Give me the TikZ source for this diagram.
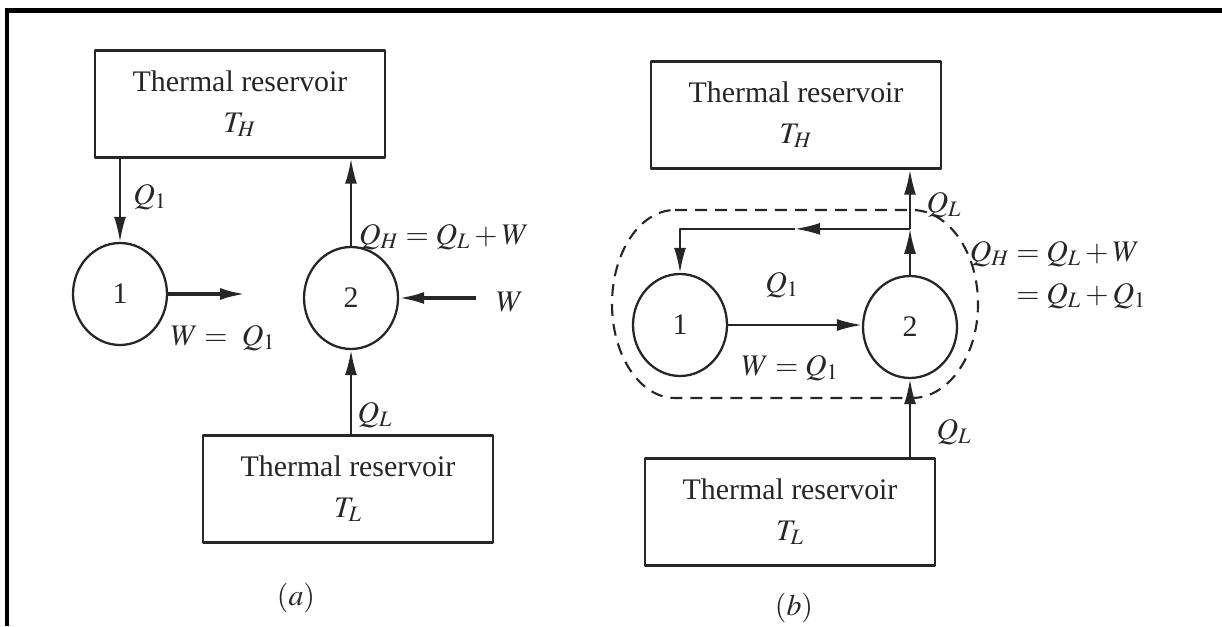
\documentclass[tikz,border=0pt]{standalone}
\usepackage{amsmath}
\usepackage{mathptmx}
\usepackage{fontspec}
\setmainfont{Liberation Serif}
\usetikzlibrary{positioning,shapes.geometric,arrows.meta,calc}

\tikzset{
  reservoir/.style={draw, line width=1.4pt, minimum width=5.8cm, minimum height=2.14cm, align=center, inner sep=0pt},
  engine/.style={draw, ellipse, line width=1.3pt, minimum width=1.88cm, minimum height=2.04cm, inner sep=0pt},
  flow/.style={line width=1.2pt, -{Latex[length=0.5cm,width=0.24cm]}},
  work/.style={flow, line width=1.8pt},
  boundary/.style={line width=1.2pt, dash pattern=on 0.24cm off 0.16cm},
}

\begin{document}
\begin{tikzpicture}[x=0.02cm, y=0.02cm, font=\fontsize{17}{23}\selectfont, line join=round, color=black!85]
  \useasboundingbox (0,0) rectangle (1222,626);
  % frame of the scan
  \draw[line width=2.4pt, black] (5,615.5) -- (1222,615.5);
  \draw[line width=2.4pt, black] (7,615.5) -- (7,0);

  % (a) two separate engines
  \node[reservoir] (THa) at (240,522) {Thermal reservoir\\ $T_H$};
  \node[reservoir] (TLa) at (348,137) {Thermal reservoir\\ $T_L$};
  \node[engine] (c1a) at (120,332) {1};
  \node[engine] (c2a) at (351,328) {2};
  \coordinate (wouta) at (245,332);
  \coordinate (wina) at (476,328);

  \draw[flow] (c1a.north |- THa.south) -- (c1a.north);
  \draw[work] (c1a.east) -- (wouta);
  \draw[flow] (c2a.north) -- (c2a.north |- THa.south);
  \draw[work] (wina) -- (c2a.east);
  \draw[flow] (c2a.south |- TLa.north) -- (c2a.south);

  \node (q1a) at (150,429) {$Q_1$};
  \node (wa) at (223,288) {$W = \ Q_1$};
  \node (qha) at (444,389) {$Q_H = Q_L + W$};
  \node (wina-l) at (510,324) {$W$};
  \node (qla) at (375,211) {$Q_L$};
  \node (capa) at (296,28) {$(a)$};

  % (b) engine 1 drives engine 2
  \node[reservoir] (THb) at (796,511) {Thermal reservoir\\ $T_H$};
  \node[reservoir] (TLb) at (790,114) {Thermal reservoir\\ $T_L$};
  \node[engine] (c1b) at (680,301) {1};
  \node[engine] (c2b) at (910,299) {2};
  \coordinate (jb) at ($(c2b.north)+(0,46)$);
  \coordinate (kb) at (c1b.north |- jb);
  \coordinate (mb) at ($(jb)!0.5!(kb)$);

  \draw[flow] (c2b.north) -- (jb);
  \draw[flow] (jb) -- (jb |- THb.south);
  \draw[flow] (jb) -- (mb);
  \draw[flow] (mb) -- (kb) -- (c1b.north);
  \draw[flow] (c1b.east) -- (c1b.east -| c2b.west);
  \draw[flow] (c2b.south |- TLb.north) -- (c2b.south);

  \draw[boundary] (675,416) -- (912,416)
    arc[start angle=90, end angle=-90, x radius=66, y radius=94] -- (675,228)
    arc[start angle=270, end angle=90, x radius=63, y radius=94] -- cycle;

  \node (qltb) at (944,421) {$Q_L$};
  \node (q1b) at (782,341) {$Q_1$};
  \node (qhb) at (1058,352) {$\begin{aligned} Q_H &= Q_L + W\\[-2pt] &= Q_L + Q_1\end{aligned}$};
  \node (wb) at (790,258) {$W = Q_1$};
  \node (qlb) at (954,194) {$Q_L$};
  \node (capb) at (794,18) {$(b)$};
\end{tikzpicture}
\end{document}
